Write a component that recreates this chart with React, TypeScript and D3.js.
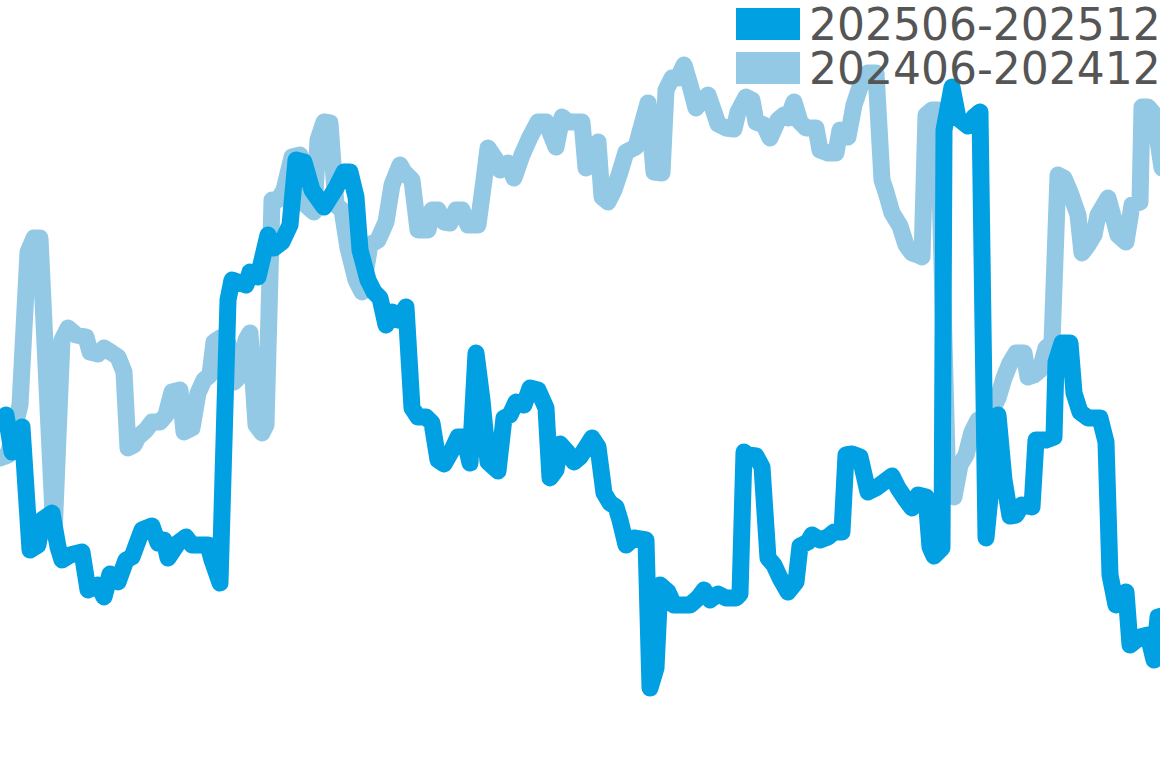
import React from "react";
import * as d3 from "d3";

// time step index (sampling steps) and values for each period
const seriesNames = ["202506-202512", "202406-202412"];
const seriesColors = ["#00A0E3", "#93C9E4"];

const currentT = [0,3,6,11,15,19,21,26,29,31,35,41,44,49,52,55,59,63,66,71,76,79,82,84,89,93,96,104,106,110,114,116,123,125,129,134,137,141,145,148,152,156,162,168,172,175,178,180,184,187,190,193,196,199,203,206,209,213,216,219,222,226,229,232,235,238,241,244,249,252,255,258,262,265,269,273,275,278,280,284,287,290,296,299,302,305,308,310,313,317,323,325,328,330,334,337,345,349,352,355,359,363,368,370,372,374,378,381,384,387,390,394,398,400,404,406,410,414,417,421,423,426,430,434,438,442,446,449,453,456,459,463,465,467,471,472,476,479,484,487,490,493,499,502,505,508,511,516,518,523,527,528,531,535,537,540,544,550,553,555,558,563,565,570,574,577,579,583];
const currentV = [30.0,30.5,26.8,29.3,17.0,17.5,20.0,20.7,17.3,16.0,16.5,16.8,13.0,13.5,12.3,14.6,13.8,16.0,16.3,19.0,19.4,17.7,18.0,16.2,17.7,18.3,17.5,17.5,16.0,13.7,42.0,44.0,43.5,44.8,44.3,48.5,47.2,47.8,49.5,56.0,55.8,53.0,51.3,53.2,54.8,54.8,52.3,47.0,44.0,42.8,42.2,39.5,40.8,40.0,41.3,31.2,30.3,30.3,29.7,26.0,25.6,27.0,28.3,28.3,25.7,36.7,32.0,25.8,24.9,30.2,30.5,31.8,31.5,33.2,33.0,31.2,24.2,25.0,27.6,26.7,25.8,26.3,28.2,27.3,22.7,21.7,21.3,20.0,17.5,18.2,18.0,3.2,5.2,13.5,12.8,11.5,11.5,12.2,13.0,12.0,12.6,12.2,12.2,12.6,26.8,26.5,26.4,25.3,16.2,15.5,14.2,12.8,13.8,17.4,17.8,18.5,18.0,18.3,18.8,18.8,26.5,26.6,26.3,22.8,23.2,23.8,24.4,23.2,22.0,21.2,22.5,22.3,17.3,16.4,17.2,59.0,63.3,60.2,59.4,60.3,60.8,18.2,30.5,24.0,20.4,20.5,21.5,21.3,28.0,28.0,28.3,35.8,37.7,37.7,32.7,30.8,30.2,30.2,27.8,14.5,11.5,12.8,7.5,8.3,8.5,6.0,10.3,10.5];

const previousT = [0,4,7,10,14,17,20,27,31,34,38,43,45,49,52,56,59,62,64,67,69,73,76,80,83,86,90,92,96,99,102,105,107,110,114,117,119,123,125,128,131,133,136,139,142,146,150,153,157,159,162,165,168,171,174,178,181,185,189,193,196,200,202,206,209,214,216,219,222,225,228,231,234,239,242,244,248,250,254,257,261,265,269,273,278,281,284,291,293,296,299,301,304,307,310,313,318,320,324,327,331,333,336,339,342,345,348,351,354,357,359,363,367,369,373,376,378,382,385,389,392,394,397,400,403,408,410,414,418,420,424,427,430,434,438,441,443,446,450,453,456,459,461,463,466,469,474,477,480,483,486,489,495,499,502,505,508,512,514,517,520,523,526,529,532,535,539,541,544,547,549,554,557,559,563,566,570,571,574,577,581];
const previousV = [26.2,26.5,29.0,31.5,46.8,48.2,48.2,18.5,38.0,39.2,38.5,38.3,36.8,36.6,37.2,36.7,36.3,34.8,27.2,27.5,28.3,29.0,29.8,29.8,30.5,32.8,33.0,28.8,29.2,32.7,34.0,34.5,37.8,38.2,37.7,33.8,34.2,38.0,38.7,29.5,28.7,29.5,52.0,52.0,53.0,56.3,56.5,51.5,50.8,58.0,59.8,59.7,51.5,51.0,47.2,44.0,42.8,47.5,48.0,49.8,53.5,55.5,54.8,54.0,49.0,49.0,51.0,51.0,49.8,49.7,51.0,51.0,49.5,49.5,54.0,57.2,56.0,55.0,55.7,54.2,56.5,58.3,59.8,59.8,57.3,60.3,59.8,59.8,55.2,55.5,57.8,52.3,51.8,53.0,54.8,56.8,57.3,58.8,61.7,54.8,54.7,63.0,64.2,64.2,65.5,63.5,61.2,62.0,62.5,60.8,59.6,59.2,59.1,60.8,62.3,62.0,59.8,59.5,58.2,60.0,60.5,60.2,61.8,59.8,59.2,59.2,57.0,56.7,56.7,59.0,58.3,61.5,63.3,64.7,64.7,54.0,52.8,50.7,49.4,47.5,46.7,46.5,46.3,60.5,61.0,61.0,22.5,22.3,25.5,26.5,28.8,30.0,30.5,32.2,34.2,35.7,36.7,36.7,34.3,34.5,35.0,37.2,37.7,54.5,54.2,52.8,50.5,46.7,47.5,48.5,50.5,52.2,50.0,48.5,47.8,51.5,51.8,61.3,61.3,60.6,55.2];

const W = 1160;
const H = 768;

export default function App() {
  const x = d3.scaleLinear().domain([0, 580]).range([0, W]);
  const y = d3.scaleLinear().domain([0, 72]).range([720, 0]);
  const line = d3
    .line<[number, number]>()
    .x((d) => x(d[0]))
    .y((d) => y(d[1]));

  const series = [
    { name: seriesNames[1], color: seriesColors[1], pts: previousT.map((t, i) => [t, previousV[i]] as [number, number]) },
    { name: seriesNames[0], color: seriesColors[0], pts: currentT.map((t, i) => [t, currentV[i]] as [number, number]) },
  ];

  return (
    <div style={{ position: "absolute", left: 0, top: 0, width: W, height: H, background: "#fff" }}>
      <svg width={W} height={H} style={{ display: "block", overflow: "hidden" }}>
        {series.map((s) => (
          <path
            key={s.name}
            d={line(s.pts) || ""}
            fill="none"
            stroke={s.color}
            strokeWidth={17}
            strokeLinejoin="round"
            strokeLinecap="round"
          />
        ))}
        {seriesNames.map((name, i) => (
          <g key={name} transform={`translate(736, ${8 + i * 44})`}>
            <rect x={0} y={0} width={64} height={32} fill={seriesColors[i]} />
            <text
              x={73}
              y={32}
              fontFamily="DejaVu Sans"
              fontSize={44}
              fill="#555555"
            >
              {name}
            </text>
          </g>
        ))}
      </svg>
    </div>
  );
}
